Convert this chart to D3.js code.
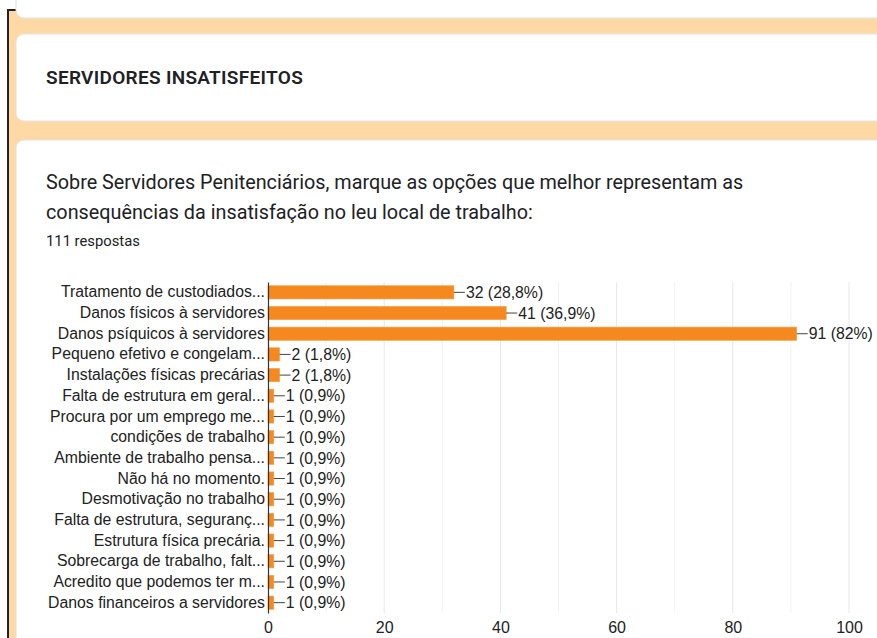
<!DOCTYPE html>
<html lang="pt">
<head>
<meta charset="UTF-8">
<title>Servidores insatisfeitos</title>
<script src="https://d3js.org/d3.v7.min.js"></script>
<style>
    body { margin: 0; background: #fff; }
    svg { display: block; }
    .head { font-family: Roboto, "Open Sans", sans-serif; fill: #202124; }
    .chart text { font-family: "Liberation Sans", Arial, sans-serif; fill: #222; }
</style>
</head>
<body>
<svg width="877" height="638"></svg>
<script>
    const categories = [
        "Tratamento de custodiados...",
        "Danos físicos à servidores",
        "Danos psíquicos à servidores",
        "Pequeno efetivo e congelam...",
        "Instalações físicas precárias",
        "Falta de estrutura em geral...",
        "Procura por um emprego me...",
        "condições de trabalho",
        "Ambiente de trabalho pensa...",
        "Não há no momento.",
        "Desmotivação no trabalho",
        "Falta de estrutura, seguranç...",
        "Estrutura física precária.",
        "Sobrecarga de trabalho, falt...",
        "Acredito que podemos ter m...",
        "Danos financeiros a servidores"
    ];
    const counts = [32, 41, 91, 2, 2, 1, 1, 1, 1, 1, 1, 1, 1, 1, 1, 1];
    const percents = ["28,8%", "36,9%", "82%", "1,8%", "1,8%", "0,9%", "0,9%", "0,9%",
        "0,9%", "0,9%", "0,9%", "0,9%", "0,9%", "0,9%", "0,9%", "0,9%"];
    const xTicks = [0, 20, 40, 60, 80, 100];
    const gridValues = [10, 20, 30, 40, 50, 60, 70, 80, 90, 100];

    const svg = d3.select("svg");
    const peach = "#fed9a6";

    // page frame
    svg.append("rect").attr("x", 9).attr("y", 11).attr("width", 868).attr("height", 627).attr("fill", peach);
    svg.append("rect").attr("x", 7).attr("y", 9).attr("width", 870).attr("height", 2).attr("fill", "#222");
    svg.append("rect").attr("x", 7).attr("y", 9).attr("width", 2).attr("height", 629).attr("fill", "#222");

    // cards
    const cards = [[-20, 18], [34, 121], [140, 700]];
    cards.forEach(c => {
        svg.append("rect")
            .attr("x", 16).attr("y", c[0])
            .attr("width", 900).attr("height", c[1] - c[0])
            .attr("rx", 8)
            .attr("fill", "#fff")
            .attr("stroke", "#e3e3e3")
            .attr("stroke-width", 1);
    });

    svg.append("text").attr("class", "head")
        .attr("x", 46).attr("y", 84)
        .attr("font-family", "'Open Sans', sans-serif")
        .attr("font-size", 19).attr("font-weight", 600)
        .attr("letter-spacing", 0.3)
        .text("SERVIDORES INSATISFEITOS");

    svg.append("text").attr("class", "head")
        .attr("x", 46).attr("y", 189)
        .attr("font-size", 19.8)
        .text("Sobre Servidores Penitenciários, marque as opções que melhor representam as");
    svg.append("text").attr("class", "head")
        .attr("x", 46).attr("y", 219)
        .attr("font-size", 19.8)
        .text("consequências da insatisfação no leu local de trabalho:");
    svg.append("text").attr("class", "head")
        .attr("x", 46).attr("y", 246)
        .attr("font-size", 14.8)
        .text("111 respostas");

    // chart
    const plotLeft = 268, plotTop = 282, plotBottom = 613;
    const x = d3.scaleLinear().domain([0, 100]).range([plotLeft, 849]);
    const y = d3.scaleBand().domain(categories).range([plotTop, plotBottom]).paddingInner(0.36).paddingOuter(0.18);

    const g = svg.append("g").attr("class", "chart");

    g.selectAll(".grid").data(gridValues).join("line")
        .attr("x1", d => x(d)).attr("x2", d => x(d))
        .attr("y1", plotTop).attr("y2", plotBottom)
        .attr("stroke", d => d % 20 === 0 ? "#e4e8ec" : "#f0f2f4")
        .attr("stroke-width", 1);

    g.selectAll(".bar").data(counts).join("rect")
        .attr("x", x(0))
        .attr("y", (d, i) => y(categories[i]))
        .attr("width", d => x(d) - x(0))
        .attr("height", y.bandwidth())
        .attr("fill", "#f5891f")
        .attr("stroke", "#f7a04a")
        .attr("stroke-width", 0.6);

    g.selectAll(".lead").data(counts).join("line")
        .attr("x1", d => x(d)).attr("x2", d => x(d) + 11)
        .attr("y1", (d, i) => y(categories[i]) + y.bandwidth() / 2)
        .attr("y2", (d, i) => y(categories[i]) + y.bandwidth() / 2)
        .attr("stroke", "#444").attr("stroke-width", 1);

    g.selectAll(".val").data(counts).join("text")
        .attr("x", d => x(d) + 12)
        .attr("y", (d, i) => y(categories[i]) + y.bandwidth() / 2)
        .attr("dy", "0.36em")
        .attr("font-size", 15.8)
        .text((d, i) => `${d} (${percents[i]})`);

    const yAxis = g.append("g")
        .attr("transform", `translate(${plotLeft},0)`)
        .call(d3.axisLeft(y).tickSize(0).tickPadding(3));
    yAxis.select(".domain").attr("stroke", "#333").attr("stroke-width", 1.2);
    yAxis.selectAll("text").attr("font-size", 15.8).attr("fill", "#222")
        .attr("font-family", "'Liberation Sans', Arial, sans-serif");

    const xAxis = g.append("g")
        .attr("transform", `translate(0,${plotBottom})`)
        .call(d3.axisBottom(x).tickValues(xTicks).tickSize(0).tickPadding(9));
    xAxis.select(".domain").remove();
    xAxis.selectAll("text").attr("font-size", 16).attr("fill", "#222")
        .attr("font-family", "'Liberation Sans', Arial, sans-serif");
</script>
</body>
</html>
